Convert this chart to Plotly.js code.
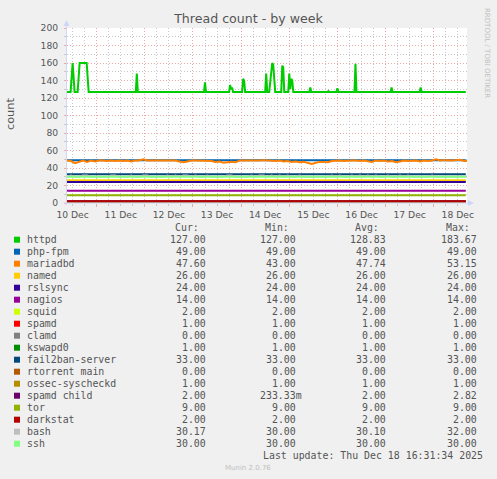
<!DOCTYPE html>
<html>
<head>
<meta charset="utf-8">
<script src="https://cdn.plot.ly/plotly-3.0.1.min.js"></script>
<style>html,body{margin:0;padding:0;background:#f0f0f0;}#chart{width:497px;height:479px;}</style>
</head>
<body>
<div id="chart"></div>
<script>
// ---------------- data ----------------
const seriesNames = ["httpd","php-fpm","mariadbd","named","rslsync","nagios","squid","spamd","clamd","kswapd0","fail2ban-server","rtorrent main","ossec-syscheckd","spamd child","tor","darkstat","bash","ssh"];
const seriesColors = ["#00CC00","#0066B3","#FF8000","#FFCC00","#330099","#990099","#CCFF00","#FF0000","#808080","#008F00","#00487D","#B35A00","#B38F00","#6B006B","#8FB300","#B30000","#BEBEBE","#80FF80"];

const legendCur = ["127.00","49.00","47.60","26.00","24.00","14.00","2.00","1.00","0.00","1.00","33.00","0.00","1.00","2.00","9.00","2.00","30.17","30.00"];
const legendMin = ["127.00","49.00","43.00","26.00","24.00","14.00","2.00","1.00","0.00","1.00","33.00","0.00","1.00","233.33m","9.00","2.00","30.00","30.00"];
const legendAvg = ["128.83","49.00","47.74","26.00","24.00","14.00","2.00","1.00","0.00","1.00","33.00","0.00","1.00","2.00","9.00","2.00","30.10","30.00"];
const legendMax = ["183.67","49.00","53.15","26.00","24.00","14.00","2.00","1.00","0.00","1.00","33.00","0.00","1.00","2.82","9.00","2.00","32.00","30.00"];

const xRange = ["2025-12-10 09:12","2025-12-18 16:36"];
const spanTimes = ["2025-12-10 09:12","2025-12-18 16:00"];

const httpdTimes = ["2025-12-10 09:12","2025-12-10 11:00","2025-12-10 12:00","2025-12-10 13:00","2025-12-10 14:30","2025-12-10 15:30","2025-12-10 19:00","2025-12-10 20:00",
 "2025-12-11 19:30","2025-12-11 20:00","2025-12-11 20:30",
 "2025-12-13 05:30","2025-12-13 06:00","2025-12-13 06:30",
 "2025-12-13 18:00","2025-12-13 18:30","2025-12-13 19:00","2025-12-13 19:30","2025-12-13 20:00",
 "2025-12-14 00:30","2025-12-14 01:00","2025-12-14 01:30","2025-12-14 02:00",
 "2025-12-14 12:00","2025-12-14 12:30","2025-12-14 13:00",
 "2025-12-14 14:00","2025-12-14 15:30","2025-12-14 16:00","2025-12-14 17:00",
 "2025-12-14 20:00","2025-12-14 20:30","2025-12-14 21:00","2025-12-14 21:30",
 "2025-12-14 23:30","2025-12-15 00:00","2025-12-15 00:30","2025-12-15 01:00","2025-12-15 01:30","2025-12-15 02:00",
 "2025-12-15 10:00","2025-12-15 10:30","2025-12-15 11:00",
 "2025-12-15 19:00","2025-12-15 19:30","2025-12-15 20:00",
 "2025-12-15 23:30","2025-12-16 00:00","2025-12-16 00:30",
 "2025-12-16 08:30","2025-12-16 09:00","2025-12-16 09:30",
 "2025-12-17 02:30","2025-12-17 03:00","2025-12-17 03:30",
 "2025-12-17 17:00","2025-12-17 17:30","2025-12-17 18:00",
 "2025-12-18 16:00"];
const httpdValues = [127,127,160,127,127,160,160,127,
 127,148,127,
 127,138,127,
 127,135,130,132,127,
 127,142,140,127,
 127,148,127,
 127,160,158,127,
 127,157,155,127,
 127,148,130,142,140,127,
 127,132,127,
 127,128,127,
 127,131,127,
 127,159,127,
 127,132,127,
 127,132,127,
 127];

// 2-hourly readings starting 2025-12-10 09:12
const gridStart = "2025-12-10 09:12";
const mariadbdValues = [48.5,48,45.5,47,48.5,47,48.5,47.5,48.5,48.5,
 48,48.5,48,48.5,48,48.5,47.5,48.5,48.5,50,
 48.5,48.5,48.5,48,48.5,48.5,48,48.5,47.5,46.5,
 47.5,48.5,48.5,48.5,48.5,48.5,48,47,47.5,46,
 46.5,47,46.5,48.5,48.5,48.5,48.5,48,48.5,49,
 48.5,48.5,48,48.5,47.5,48,47,47.5,46.5,47,
 46,44.5,46,47,47,46.5,48,48.5,48.5,48,
 48.5,48.5,48.5,48,48.5,48,47,48.5,48,48.5,
 47.5,48,46.5,47.5,48.5,48,48.5,48.5,47.5,48.5,
 48,48.5,50,48.5,49,48.5,48.5,49,49.5,48,48];
const bashValues = [30,31.5,30,30,31.5,31.5,30,30,30,30,
 30,31.5,31.5,30,30,30,31.5,30,30,31.5,
 31.5,30,30,30,30,31.5,30,31.5,30,31.5,
 31.5,30,31.5,30,30,31.5,30,30,30,30,
 31.5,31.5,30,30,30,30,31.5,30,31.5,31.5,
 30,31.5,30,31.5,30,31.5,30,30,31.5,30,
 30,30,30,30,30,30,31.5,30,31.5,30,
 30,31.5,30,31.5,30,31.5,30,31.5,30,30,
 31.5,30,30,31.5,30,31.5,30,30,30,30,
 30,31.5,30,30,30,30,30,30,30,30,30.17];

const phpfpmValues = [49,49];
const namedValues = [26,26];
const rslsyncValues = [24,24];
const nagiosValues = [14,14];
const squidValues = [2,2];
const spamdValues = [1,1];
const clamdValues = [0,0];
const kswapd0Values = [1,1];
const fail2banValues = [33,33];
const rtorrentValues = [0,0];
const ossecValues = [1,1];
const spamdChildValues = [2,2];
const torValues = [9,9];
const darkstatValues = [2,2];
const sshValues = [30,30];

// ---------------- build ----------------
function gridTimes(n){
  const t0 = new Date(gridStart.replace(" ","T")+":00Z").getTime();
  const out=[];
  for(let i=0;i<n;i++){
    const d=new Date(t0+i*2*3600*1000);
    out.push(d.toISOString().slice(0,16).replace("T"," "));
  }
  return out;
}
const mariadbdTimes = gridTimes(mariadbdValues.length);
const bashTimes = gridTimes(bashValues.length);

const seriesX = [httpdTimes,spanTimes,mariadbdTimes,spanTimes,spanTimes,spanTimes,spanTimes,spanTimes,spanTimes,spanTimes,spanTimes,spanTimes,spanTimes,spanTimes,spanTimes,spanTimes,bashTimes,spanTimes];
const seriesY = [httpdValues,phpfpmValues,mariadbdValues,namedValues,rslsyncValues,nagiosValues,squidValues,spamdValues,clamdValues,kswapd0Values,fail2banValues,rtorrentValues,ossecValues,spamdChildValues,torValues,darkstatValues,bashValues,sshValues];

const traces = seriesNames.map((n,i)=>({
  type:"scatter", mode:"lines", name:n, x:seriesX[i], y:seriesY[i],
  line:{color:seriesColors[i], width:2}, hoverinfo:"skip"
}));

const PL=67, PT=28, PW=400, PH=175;
const px = v => (v-PL)/PW;
const py = v => (PT+PH-v)/PH;

const FONT="DejaVu Sans", MONO="DejaVu Sans Mono", TXT="#555555";
const GRID="#c8c8c8", MGRID="#eda8a8", AXIS="#CFD6F8";

const annotations=[];
const shapes=[];
function ann(text,x,y,xanchor,opts){
  annotations.push(Object.assign({text:text,xref:"paper",yref:"paper",x:px(x),y:py(y),xanchor:xanchor,yanchor:"middle",
    showarrow:false,borderpad:0,borderwidth:0,font:{family:MONO,size:9.9,color:TXT}},opts||{}));
}
// legend header
const headRight=[199.3,289.3,379.3,470];
["Cur:","Min:","Avg:","Max:"].forEach((h,j)=>ann(h,headRight[j],227.5,"right"));
const valRight=[206,296,386,476.7];
const cols=[legendCur,legendMin,legendAvg,legendMax];
seriesNames.forEach((n,i)=>{
  const y=239.7+12*i;
  shapes.push({type:"rect",xref:"paper",yref:"paper",x0:px(14),x1:px(20),y0:py(y-3),y1:py(y+3),fillcolor:seriesColors[i],line:{width:0}});
  ann(n,26.7,y,"left");
  cols.forEach((c,j)=>{
    const s=c[i];
    const suffixed=/[a-zA-Z]$/.test(s);
    ann(s,valRight[j]+(suffixed?6:0),y,"right");
  });
});
ann("Last update: Thu Dec 18 16:31:34 2025",482.7,455.7,"right");
ann("Munin 2.0.76",248,468,"center",{font:{family:FONT,size:7,color:"#c0c0c0"}});
ann("count",10,114,"center",{textangle:-90,font:{family:FONT,size:11.3,color:TXT}});
ann("RRDTOOL / TOBI OETIKER",487,53,"center",{textangle:90,font:{family:FONT,size:7,color:"#c0c0c0"}});

// axis lines and arrows
shapes.push({type:"line",xref:"paper",yref:"paper",x0:px(66.5),x1:px(66.5),y0:py(205),y1:py(24),line:{color:AXIS,width:1},layer:"above"});
shapes.push({type:"path",xref:"paper",yref:"paper",path:`M ${px(63.5)} ${py(26)} L ${px(69.5)} ${py(26)} L ${px(66.5)} ${py(20)} Z`,fillcolor:AXIS,line:{width:0},layer:"above"});
shapes.push({type:"line",xref:"paper",yref:"paper",x0:px(64),x1:px(470),y0:py(203),y1:py(203),line:{color:AXIS,width:1},layer:"above"});
shapes.push({type:"path",xref:"paper",yref:"paper",path:`M ${px(468)} ${py(200)} L ${px(468)} ${py(206)} L ${px(474)} ${py(203)} Z`,fillcolor:AXIS,line:{width:0},layer:"above"});

const layout={
  width:497,height:479,
  paper_bgcolor:"#f0f0f0",plot_bgcolor:"#ffffff",
  margin:{l:PL,r:497-PL-PW,t:PT,b:479-PT-PH,pad:0},
  showlegend:false,
  font:{family:FONT,color:TXT},
  title:{text:"Thread count - by week",x:0.5,xref:"container",xanchor:"center",y:1-19/479,yref:"container",yanchor:"middle",
    font:{family:FONT,size:12.6,color:TXT}},
  xaxis:{type:"date",range:xRange,tick0:"2025-12-10 00:00",dtick:86400000,ticklabelmode:"period",tickformat:"%d %b",
    showgrid:true,gridcolor:MGRID,griddash:"1px,2px",gridwidth:1,
    ticks:"outside",ticklen:3,tickcolor:MGRID,tickwidth:1,
    minor:{dtick:21600000,showgrid:true,gridcolor:GRID,griddash:"1px,2px",ticks:"outside",ticklen:2,tickcolor:GRID},
    tickfont:{family:FONT,size:9.2,color:TXT},zeroline:false,showline:false,fixedrange:true},
  yaxis:{range:[0,200],dtick:20,tick0:0,
    showgrid:true,gridcolor:MGRID,griddash:"1px,2px",gridwidth:1,
    ticks:"outside",ticklen:2,tickcolor:MGRID,
    minor:{dtick:10,showgrid:true,gridcolor:GRID,griddash:"1px,2px",ticks:"outside",ticklen:2,tickcolor:GRID},
    tickfont:{family:FONT,size:9.2,color:TXT},zeroline:false,showline:false,fixedrange:true,ticklabelstandoff:4},
  annotations:annotations,
  shapes:shapes
};
Plotly.newPlot("chart",traces,layout,{staticPlot:true,displayModeBar:false});
</script>
</body>
</html>
